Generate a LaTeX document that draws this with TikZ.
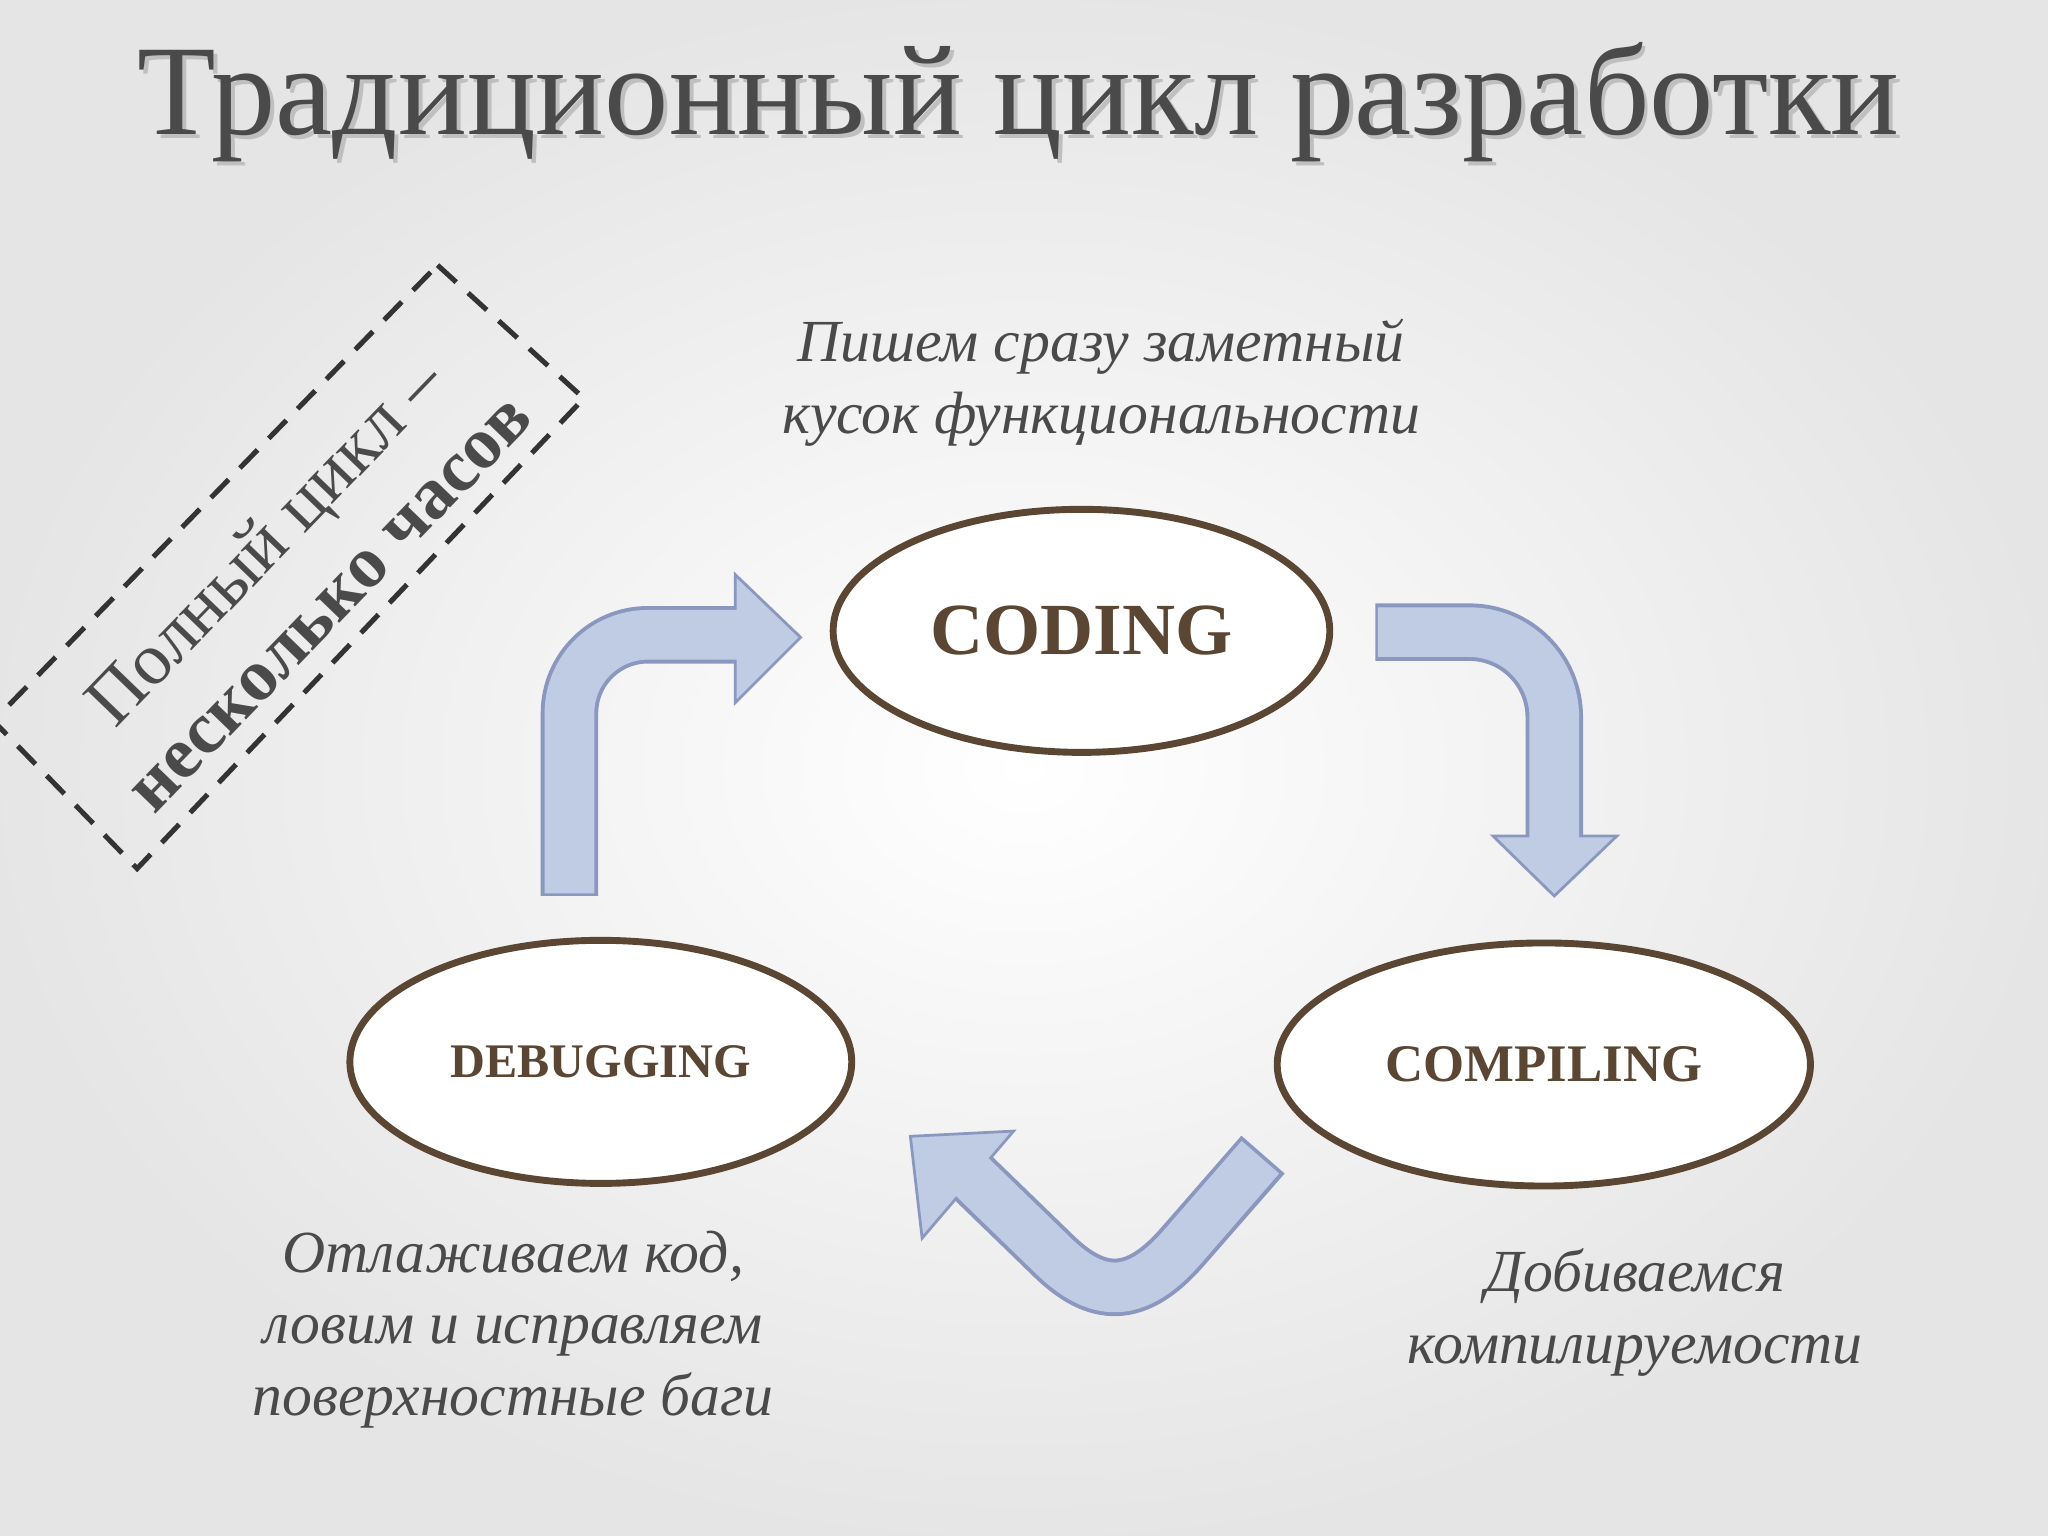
\documentclass[tikz,border=0pt]{standalone}
\usepackage{fontspec}
\setmainfont{Liberation Serif}
\usetikzlibrary{shapes.geometric}
\definecolor{brn}{HTML}{5A4632}
\definecolor{afill}{HTML}{C0CBE4}
\definecolor{aline}{HTML}{8A98C0}
\definecolor{txt}{HTML}{4A4A4A}
\tikzset{
  ell/.style={ellipse,draw=brn,line width=1.5pt,fill=white,inner sep=0pt},
  lbl/.style={text=brn,font=\bfseries},
  note/.style={text=txt,font=\itshape\fontsize{13}{15.5}\selectfont,align=center},
  shaftB/.style={draw=aline,line width=0.44cm},
  shaftF/.style={draw=afill,line width=0.38cm},
  head/.style={fill=afill,draw=aline,line width=0.6pt,line join=miter}
}
\begin{document}
\begin{tikzpicture}[x=0.01cm,y=-0.01cm]
\useasboundingbox (0,0) rectangle (1568,1176);
\shade[inner color=white,outer color=black!10] (0,0) rectangle (1568,1176);
% title
\node[text=black!25,font=\fontsize{28}{32}\selectfont] at (783,81) {Традиционный цикл разработки};
\node (title) [text=txt,font=\fontsize{28}{32}\selectfont] at (780,78) {Традиционный цикл разработки};
% ellipses
\node (cod) [ell,minimum width=3.8cm,minimum height=1.86cm] at (828,483) {};
\node[lbl,font=\bfseries\fontsize{16}{19}\selectfont] at (cod) {CODING};
\node (deb) [ell,minimum width=3.84cm,minimum height=1.86cm] at (460,813) {};
\node[lbl,font=\bfseries\fontsize{10.5}{13}\selectfont] at (deb) {DEBUGGING};
\node (com) [ell,minimum width=4.08cm,minimum height=1.86cm] at (1182,815) {};
\node[lbl,font=\bfseries\fontsize{11.5}{14}\selectfont] at (com) {COMPILING};
% notes
\node (n1) [note] at (843,293) {Пишем сразу заметный\\кусок функциональности};
\node (n2) [note] at (393,1018) {Отлаживаем код,\\ловим и исправляем\\поверхностные баги};
\node (n3) [note] at (1252,1005) {Добиваемся\\компилируемости};
% arrow 1
\draw[shaftB,rounded corners=0.6cm] (436,686) -- (436,486) -- (565,486);
\draw[head] (563,440) -- (613,488) -- (563,538) -- cycle;
\draw[shaftF,rounded corners=0.6cm] (436,684) -- (436,486) -- (566,486);
% arrow 2
\draw[shaftB,rounded corners=0.65cm] (1053,484) -- (1190,484) -- (1190,642);
\draw[head] (1143,640) -- (1238,640) -- (1190,686) -- cycle;
\draw[shaftF,rounded corners=0.65cm] (1055,484) -- (1190,484) -- (1190,643);
% arrow 3
\draw[shaftB] (967,884) -- (905,955) .. controls (870,995) and (840,995) .. (805,960) -- (740,897);
\draw[head] (697,870) -- (776,866) -- (706,948) -- cycle;
\draw[shaftF] (965,886) -- (905,955) .. controls (870,995) and (840,995) .. (805,960) -- (738,895);
% dashed box
\draw[dash pattern=on 5.5pt off 3.5pt,line width=1.1pt,draw=black!80] (335,203) -- (447,305) -- (105,665) -- (-5,552) -- cycle;
\node (box) [rotate=46,text=txt,align=center,font=\fontsize{16}{19}\selectfont] at (226,437) {Полный цикл –\\\textbf{несколько часов}};
\end{tikzpicture}
\end{document}
